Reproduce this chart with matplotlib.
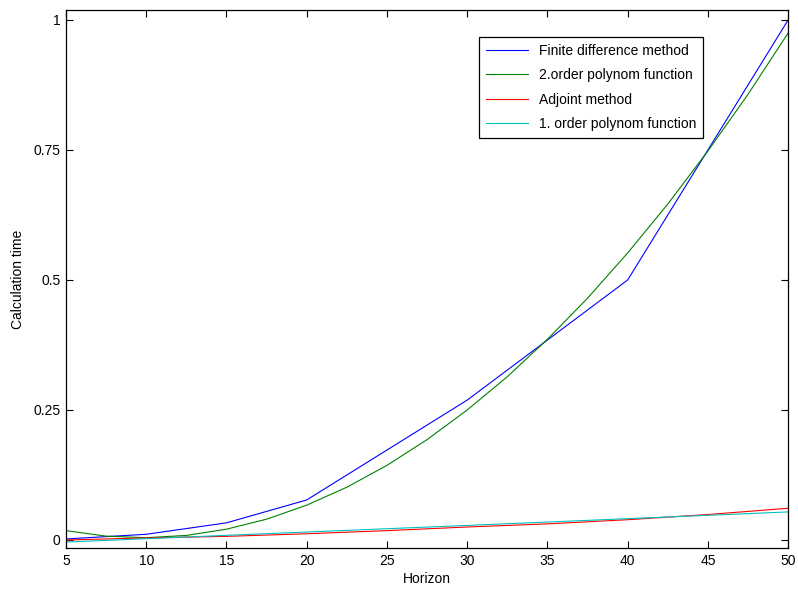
import matplotlib
matplotlib.use("Agg")
import matplotlib.pyplot as plt

plt.rcParams['font.family'] = ['Liberation Sans', 'DejaVu Sans']

# measured calculation times
horizon_fd = [5, 10, 15, 20, 30, 40, 50]
time_fd = [0.002, 0.011, 0.033, 0.077, 0.269, 0.5, 1.0]

horizon_fit = [5, 7.5, 10, 12.5, 15, 17.5, 20, 22.5, 25, 27.5, 30,
               32.5, 35, 37.5, 40, 42.5, 45, 47.5, 50]
time_quad = [0.018, 0.0074, 0.0044, 0.0088, 0.0208, 0.040, 0.067, 0.1015,
             0.1435, 0.193, 0.250, 0.314, 0.386, 0.465, 0.552, 0.646,
             0.748, 0.857, 0.975]

horizon_adj = [5, 10, 15, 20, 25, 30, 35, 40, 45, 50]
time_adj = [0.0, 0.004, 0.007, 0.012, 0.018, 0.025, 0.031, 0.039, 0.049, 0.061]
time_lin = [-0.004, 0.0025, 0.009, 0.0153, 0.0217, 0.028, 0.0345, 0.041,
            0.0475, 0.054]

labels = ['Finite difference method', '2.order polynom function',
          'Adjoint method', '1. order polynom function']

fig = plt.figure(figsize=(7.98, 5.89), dpi=100)
ax = fig.add_axes([0.0827, 0.0696, 0.905, 0.9134])

lw = 0.8
ax.plot(horizon_fd, time_fd, color=(0, 0, 1), lw=lw, label=labels[0])
ax.plot(horizon_fit, time_quad, color=(0, 0.5, 0), lw=lw, label=labels[1])
ax.plot(horizon_adj, time_adj, color=(1, 0, 0), lw=lw, label=labels[2])
ax.plot(horizon_adj, time_lin, color=(0, 0.75, 0.75), lw=lw, label=labels[3])

ax.set_xlim(5, 50)
ax.set_ylim(-0.0154, 1.019)
ax.set_xticks(range(5, 51, 5))
ax.set_yticks([0, 0.25, 0.5, 0.75, 1])
ax.set_yticklabels(['0', '0.25', '0.5', '0.75', '1'])
ax.tick_params(direction='in', length=5, width=0.8, labelsize=10,
               top=True, right=True, pad=4)
for s in ax.spines.values():
    s.set_linewidth(0.9)

ax.set_xlabel('Horizon', fontsize=10, labelpad=3)
ax.set_ylabel('Calculation time', fontsize=10, labelpad=6)

leg = ax.legend(loc='upper right', bbox_to_anchor=(0.892, 0.963),
                fontsize=10, fancybox=False, edgecolor='black',
                framealpha=1, handlelength=3.0, labelspacing=0.75,
                borderpad=0.5, handletextpad=0.8)
leg.get_frame().set_linewidth(0.9)

fig.savefig('out.png', dpi=100)
